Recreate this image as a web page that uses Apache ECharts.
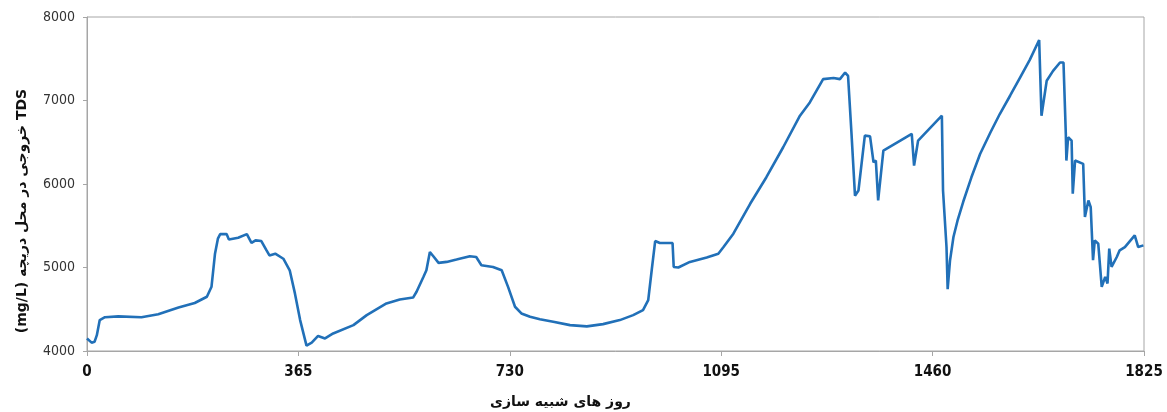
<!DOCTYPE html>
<html>
<head>
<meta charset="utf-8">
<script src="https://cdn.jsdelivr.net/npm/echarts@6/dist/echarts.min.js"></script>
<style>
html,body{margin:0;padding:0;background:#fff;}
#chart{width:1167px;height:412px;}
</style>
</head>
<body>
<div id="chart"></div>
<script>
const days = [0,8,13,17,22,31,54,94,123,158,186,207,215,221,226,230,241,245,261,276,284,291,301,310,315,325,339,350,359,368,379,388,399,411,425,460,483,517,540,563,569,581,586,592,598,607,621,638,661,672,681,701,716,727,739,750,765,782,805,834,863,891,920,943,960,969,975,981,989,1011,1013,1021,1041,1070,1090,1099,1116,1145,1173,1202,1231,1248,1271,1289,1300,1309,1314,1320,1326,1332,1343,1352,1358,1362,1366,1375,1424,1428,1435,1476,1478,1484,1486,1490,1496,1503,1513,1527,1542,1560,1576,1594,1611,1628,1644,1648,1657,1668,1680,1686,1690,1691,1694,1700,1702,1706,1720,1723,1729,1733,1737,1740,1746,1752,1758,1762,1765,1769,1778,1783,1792,1809,1815,1824];
const tds = [4150,4100,4110,4190,4370,4405,4415,4405,4440,4520,4575,4650,4770,5165,5345,5400,5400,5335,5357,5400,5295,5325,5317,5205,5145,5165,5105,4967,4690,4370,4065,4100,4180,4150,4210,4310,4430,4570,4617,4640,4710,4890,4967,5185,5135,5055,5067,5095,5135,5126,5027,5007,4967,4768,4530,4450,4410,4380,4350,4310,4295,4322,4370,4430,4490,4610,4967,5317,5293,5293,5007,5000,5067,5120,5165,5245,5405,5763,6081,6440,6818,6977,7256,7270,7256,7335,7296,6600,5860,5922,6580,6570,6260,6281,5803,6400,6600,6221,6520,6818,5922,5245,4740,5080,5365,5560,5790,6080,6360,6620,6838,7060,7275,7490,7725,6818,7236,7355,7455,7455,6600,6281,6560,6520,5883,6281,6241,5604,5803,5723,5087,5325,5285,4768,4887,4808,5226,5007,5126,5206,5245,5385,5245,5265];
const xTicks = [0,365,730,1095,1460,1825];
const yTicks = [4000,5000,6000,7000,8000];
const xTitle = 'روز های شبیه سازی';
const yTitle = 'TDS خروجی در محل دریچه (mg/L)';

const chart = echarts.init(document.getElementById('chart'));
const series = days.map((d,i)=>[d,tds[i]]);
const tickFont = 'Liberation Sans Narrow, DejaVu Sans Condensed, sans-serif';
chart.setOption({
  animation:false,
  grid:{left:87,right:23,top:17,bottom:61,show:true,borderColor:'#a6a6a6',borderWidth:1,outerBoundsMode:'none',containLabel:false},
  xAxis:{
    type:'value',min:xTicks[0],max:xTicks[xTicks.length-1],interval:365,
    name:'\u202B'+xTitle+'\u202C',nameLocation:'middle',nameGap:44,
    nameTextStyle:{fontFamily:'DejaVu Sans',fontWeight:'bold',fontSize:14,color:'#111',padding:[0,110,0,0]},
    axisLine:{lineStyle:{color:'#a6a6a6'}},
    axisTick:{show:true,length:5,lineStyle:{color:'#a6a6a6'}},
    axisLabel:{fontFamily:tickFont,fontWeight:'bold',fontSize:15,color:'#111',margin:14,formatter:v=>String(v)},
    splitLine:{show:false}
  },
  yAxis:{
    type:'value',min:yTicks[0],max:yTicks[yTicks.length-1],interval:1000,
    name:'\u202B'+yTitle+'\u202C',nameLocation:'middle',nameRotate:90,nameGap:58,
    nameTextStyle:{fontFamily:'DejaVu Sans',fontWeight:'bold',fontSize:14,color:'#111',padding:[0,54,0,0]},
    axisLine:{show:true,lineStyle:{color:'#a6a6a6'}},
    axisTick:{show:true,length:4,lineStyle:{color:'#a6a6a6'}},
    axisLabel:{fontFamily:tickFont,fontSize:14,color:'#333',margin:12,formatter:v=>String(v)},
    splitLine:{show:false}
  },
  series:[{type:'line',data:series,showSymbol:false,symbol:'none',
    lineStyle:{color:'#2170b8',width:2.6},itemStyle:{color:'#2170b8'}}]
});
</script>
</body>
</html>
